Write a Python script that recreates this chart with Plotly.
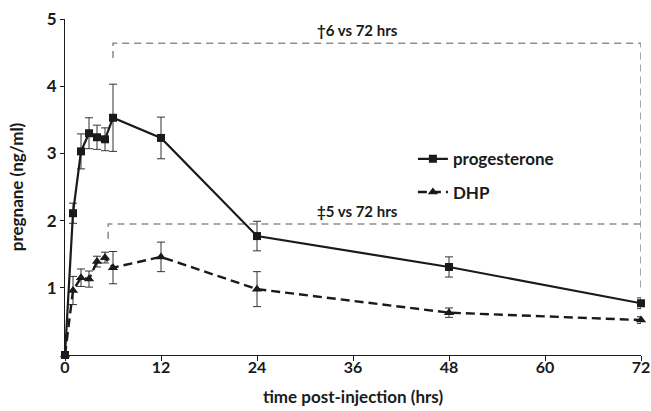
import plotly.graph_objects as go

hours = [0, 1, 2, 3, 4, 5, 6, 12, 24, 48, 72]
progesterone = [0, 2.11, 3.03, 3.30, 3.24, 3.21, 3.53, 3.23, 1.77, 1.31, 0.77]
prog_err = [0, 0.15, 0.26, 0.23, 0.18, 0.17, 0.50, 0.31, 0.22, 0.15, 0.08]
dhp = [0, 0.96, 1.15, 1.13, 1.39, 1.45, 1.30, 1.46, 0.98, 0.63, 0.52]
dhp_err = [0, 0.21, 0.13, 0.12, 0.08, 0.08, 0.24, 0.22, 0.26, 0.07, 0.05]

x_ticks = [0, 12, 24, 36, 48, 60, 72]
y_ticks = [1, 2, 3, 4, 5]

# comparison brackets (hours, ng/ml)
br1_x = [6, 6, 72, 72]
br1_y = [4.42, 4.64, 4.64, 0.95]
br1_label = "†6 vs 72 hrs"
br2_x = [5.4, 5.4, 72.3, 72.3]
br2_y = [1.73, 1.95, 1.95, 0.3]
br2_label = "‡5 vs 72 hrs"
label_x = 36.5

FONT = "Lato"
INK = "#1a1a1a"
GRAY = "#8f8f8f"

fig = go.Figure()

for bx, by in [(br1_x, br1_y), (br2_x, br2_y)]:
    fig.add_trace(go.Scatter(x=bx, y=by, mode="lines", showlegend=False,
                             line=dict(color=GRAY, width=1.6, dash="7px,5px"),
                             hoverinfo="skip", cliponaxis=False))

fig.add_trace(go.Scatter(
    x=hours, y=progesterone, name="progesterone", mode="lines+markers",
    line=dict(color=INK, width=2.2),
    marker=dict(symbol="square", size=8, color=INK),
    error_y=dict(type="data", array=prog_err, color="#333333", thickness=1, width=4),
    cliponaxis=False, legendgroup="a"))

fig.add_trace(go.Scatter(
    x=hours, y=dhp, name="DHP", mode="lines+markers",
    line=dict(color=INK, width=2.4, dash="9px,5px"),
    marker=dict(symbol="triangle-up", size=9, color=INK),
    error_y=dict(type="data", array=dhp_err, color="#333333", thickness=1, width=4),
    cliponaxis=False, legendgroup="b"))

fig.add_annotation(x=label_x, y=br1_y[1], text=br1_label,
                   showarrow=False, yanchor="bottom", yshift=2,
                   font=dict(family=FONT, size=15, color=INK, weight="bold"))
fig.add_annotation(x=label_x, y=br2_y[1], text=br2_label,
                   showarrow=False, yanchor="bottom", yshift=2,
                   font=dict(family=FONT, size=15, color=INK, weight="bold"))

fig.update_layout(
    width=651, height=411,
    margin=dict(l=65, r=10, t=19, b=56, autoexpand=False),
    paper_bgcolor="white", plot_bgcolor="white",
    font=dict(family=FONT, size=15, color=INK, weight="bold"),
    legend=dict(x=0.604, y=0.636, xanchor="left", yanchor="top",
                traceorder="grouped", tracegroupgap=8,
                font=dict(family=FONT, size=17, color=INK, weight="bold"),
                bgcolor="rgba(0,0,0,0)", itemwidth=30),
    xaxis=dict(range=[0, 72], tickvals=x_ticks, ticks="outside", ticklen=5,
               tickwidth=1, tickcolor=INK, showline=True, linecolor=INK, linewidth=1.2,
               showgrid=False, zeroline=False, automargin=False, ticklabelstandoff=-7,
               title=dict(text="time post-injection (hrs)", standoff=15,
                          font=dict(family=FONT, size=17, color=INK, weight="bold")),
               tickfont=dict(family=FONT, size=16, color=INK, weight="bold")),
    yaxis=dict(range=[0, 5], tickvals=y_ticks, ticks="outside", ticklen=4,
               tickwidth=1, tickcolor=INK, showline=True, linecolor=INK, linewidth=1.2,
               showgrid=False, zeroline=False, automargin=False,
               title=dict(text="pregnane (ng/ml)", standoff=18,
                          font=dict(family=FONT, size=17, color=INK, weight="bold")),
               tickfont=dict(family=FONT, size=17, color=INK, weight="bold")),
)

fig.write_html("out.html", config={"displayModeBar": False},
               post_script="document.body.style.margin='0px';document.body.style.overflow='hidden';")
